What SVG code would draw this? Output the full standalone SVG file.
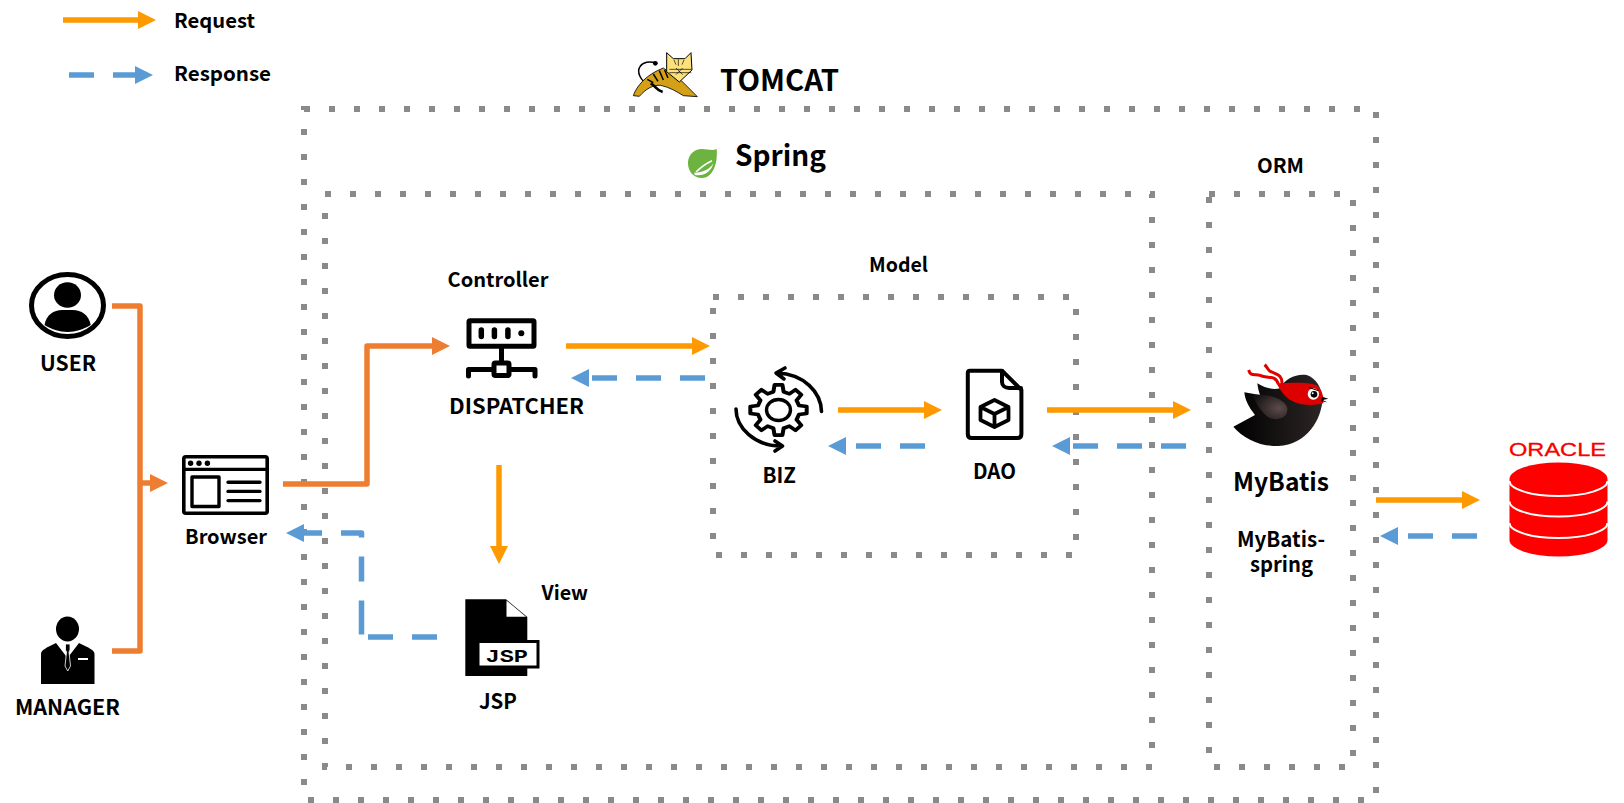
<svg xmlns="http://www.w3.org/2000/svg" width="1624" height="803" viewBox="0 0 1624 803">
<style>
.box{fill:none;stroke:#8a8a8a;stroke-width:6;stroke-dasharray:6 19}
.req,.ora,.res{fill:none;stroke-width:5.5;stroke-linejoin:round}
.req{stroke:#ff9900}
.ora{stroke:#ed7d31}
.res{stroke:#5b9bd5;stroke-dasharray:25 19}
.ah-req{marker-end:url(#hReq)}
.ah-ora{marker-end:url(#hOra)}
.ah-res{marker-end:url(#hRes)}
text{font-family:"Noto Sans CJK JP","Noto Sans","Liberation Sans",sans-serif;font-weight:700;fill:#000}
.ic{fill:none;stroke:#000;stroke-linejoin:round;stroke-linecap:round}
</style>
<defs>
<marker id="hReq" markerUnits="userSpaceOnUse" markerWidth="18" markerHeight="18" refX="0" refY="9" orient="auto"><polygon points="0,0 18,9 0,18" fill="#ff9900"/></marker>
<marker id="hOra" markerUnits="userSpaceOnUse" markerWidth="18" markerHeight="18" refX="0" refY="9" orient="auto"><polygon points="0,0 18,9 0,18" fill="#ed7d31"/></marker>
<marker id="hRes" markerUnits="userSpaceOnUse" markerWidth="18" markerHeight="18" refX="0" refY="9" orient="auto"><polygon points="0,0 18,9 0,18" fill="#5b9bd5"/></marker>
<radialGradient id="wingG" cx="0.75" cy="0.55" r="0.8"><stop offset="0" stop-color="#5d4b4a"/><stop offset="1" stop-color="#141111"/></radialGradient>
<linearGradient id="birdG" x1="0" x2="1" y1="0" y2="0"><stop offset="0" stop-color="#000"/><stop offset="1" stop-color="#2c2625"/></linearGradient>
</defs>

<g id="containers">
<rect id="tomcat-box" class="box" x="304" y="109" width="1072" height="691"/>
<rect id="spring-box" class="box" x="325" y="194" width="827" height="573"/>
<rect id="orm-box" class="box" x="1209" y="194" width="144" height="573"/>
<rect id="model-box" class="box" x="713" y="297" width="363" height="258"/>
</g>

<g id="connectors">
<path class="req ah-req" d="M63 20H138"/>
<path class="res ah-res" d="M69 75H135"/>
<path class="ora" d="M112 306H140V651H112"/>
<path class="ora ah-ora" d="M140 483H150"/>
<path class="ora ah-ora" d="M283 484H367V346H432"/>
<path class="req ah-req" d="M566 346H692"/>
<path class="res ah-res" d="M705 378H589"/>
<path class="req ah-req" d="M499 465V546"/>
<path class="res" d="M437 637H368"/>
<path class="res ah-res" style="stroke-dasharray:34 19 25 19 25 19 25" d="M361.5 634.5V533H304"/>
<path class="req ah-req" d="M838 410H924"/>
<path class="res ah-res" d="M925 446H846"/>
<path class="req ah-req" d="M1047 410H1173"/>
<path class="res ah-res" d="M1186 446H1070"/>
<path class="req ah-req" d="M1376 500H1462"/>
<path class="res ah-res" d="M1477 536H1398"/>
</g>

<g id="legend">
<text x="174" y="28" font-size="20" textLength="81" lengthAdjust="spacingAndGlyphs">Request</text>
<text x="174" y="80.5" font-size="20" textLength="97" lengthAdjust="spacingAndGlyphs">Response</text>
</g>

<g id="tomcat">
<g transform="translate(620 40) scale(.33333)">
<path d="M88 134C60 124 50 95 60 80C68 66 88 62 112 70" fill="none" stroke="#000" stroke-width="4.5"/>
<circle cx="106" cy="70" r="7" fill="#000"/>
<path d="M40 167C50 138 78 104 130 84L152 100L184 122L232 170L190 167C172 156 150 142 122 136C100 134 78 146 58 169Z" fill="#d4a017" stroke="#000" stroke-width="2.5"/>
<path d="M92 130C108 138 108 150 128 156" fill="none" stroke="#000" stroke-width="8"/>
<path d="M82 118L100 128M100 102L114 124M118 92L130 120M134 90L144 114" stroke="#000" stroke-width="4.5" fill="none"/>
<path d="M140 38L160 56H195L213 38L216 90L178 126L140 95Z" fill="#fde17c" stroke="#000" stroke-width="3"/>
<path d="M175 58V78M162 60L168 74M192 60L186 74M148 88H214M148 98H214M168 84L188 104M188 84L168 104" stroke="#000" stroke-width="2" fill="none"/>
</g>
<text x="720" y="91" font-size="29" textLength="119" lengthAdjust="spacingAndGlyphs">TOMCAT</text>
</g>

<g id="spring">
<path d="M716.7 149C718 165 712 178 702 178C693 178 688 171 688 163C688 155 694 149 702 149C708 149 712 151 716.7 149Z" fill="#6db33f"/>
<path d="M694 172.7C700 173.3 710 170 713.3 163.3C711.7 171.7 703 176.7 695 175Z" fill="#fff"/>
<path d="M696 172C702 166 707 163 712 160.7" fill="none" stroke="#fff" stroke-width="1.6"/>
<text x="735" y="166" font-size="29" textLength="91" lengthAdjust="spacingAndGlyphs">Spring</text>
</g>

<g id="orm-label"><text x="1257" y="173" font-size="20" textLength="47" lengthAdjust="spacingAndGlyphs">ORM</text></g>
<g id="model-label"><text x="869" y="272" font-size="20" textLength="59" lengthAdjust="spacingAndGlyphs">Model</text></g>

<g id="user">
<ellipse cx="67.5" cy="305.5" rx="36" ry="31" fill="none" stroke="#000" stroke-width="5"/>
<ellipse cx="67.5" cy="295" rx="13.5" ry="12.8" fill="#000"/>
<path d="M44.5 325C46 315 54 310 62 310H73C81 310 89 315 90.7 325C84 329 76 332 67.5 332C59 332 51 329 44.5 325Z" fill="#000"/>
<text x="40" y="371" font-size="21" textLength="56" lengthAdjust="spacingAndGlyphs">USER</text>
</g>

<g id="manager">
<ellipse cx="67.5" cy="629" rx="11.5" ry="12.5" fill="#000"/>
<path d="M41 684V654C41 650 46 648 56 643L67.5 658L79 643C89 648 94.5 650 94.5 654V684Z" fill="#000"/>
<path d="M65.5 644H70V650L69 652L70.5 666L67.7 671L65 666L66.5 652L65.5 650Z" fill="#000" stroke="#fff" stroke-width=".8"/>
<path d="M78 659H88" stroke="#fff" stroke-width="2"/>
<text x="15" y="715" font-size="21" textLength="105" lengthAdjust="spacingAndGlyphs">MANAGER</text>
</g>

<g id="browser">
<rect class="ic" x="183.8" y="456.8" width="83.4" height="56.4" rx="2" stroke-width="3.6"/>
<path class="ic" d="M183.7 469.3H267.3" stroke-width="3.2"/>
<circle cx="190.6" cy="463.2" r="2.7"/><circle cx="199" cy="463.2" r="2.7"/><circle cx="207.4" cy="463.2" r="2.7"/>
<rect class="ic" x="192" y="477" width="27" height="29.5" stroke-width="3.4"/>
<path class="ic" d="M228 482.3H260M228 491.4H260M228 500.6H260" stroke-width="3.4"/>
<text x="185" y="544" font-size="20" textLength="82" lengthAdjust="spacingAndGlyphs">Browser</text>
</g>

<g id="dispatcher">
<rect class="ic" x="469" y="320.7" width="65" height="25.5" rx="1" stroke-width="5"/>
<path class="ic" d="M501.5 347V362" stroke-width="5"/>
<path class="ic" d="M468.5 376V369.5H493M510 369.5H535V376" stroke-width="5"/>
<rect class="ic" x="494" y="363" width="15" height="12.5" rx="1.5" stroke-width="5"/>
<path class="ic" d="M481.3 330V336.5M494.4 330V336.5M507.9 330V336.5" stroke-width="5.5"/>
<circle cx="521.3" cy="333.3" r="3"/>
<text x="447.5" y="287" font-size="20" textLength="101" lengthAdjust="spacingAndGlyphs">Controller</text>
<text x="449" y="414" font-size="21" textLength="135" lengthAdjust="spacingAndGlyphs">DISPATCHER</text>
</g>

<g id="jsp">
<path d="M465.3 599.3H506L527.3 617V676H465.3Z" fill="#000"/>
<path d="M506.5 600.5L526 616.8H506.5Z" fill="#fff"/>
<rect x="478" y="641.5" width="60" height="25.5" fill="#fff" stroke="#000" stroke-width="3"/>
<text x="485.5" y="662" font-size="18.5" textLength="42.5" lengthAdjust="spacingAndGlyphs" style="font-family:'Liberation Mono',monospace">JSP</text>
<text x="541.5" y="600" font-size="20" textLength="46.5" lengthAdjust="spacingAndGlyphs">View</text>
<text x="479" y="709" font-size="21" textLength="38" lengthAdjust="spacingAndGlyphs">JSP</text>
</g>

<g id="biz">
<g transform="translate(778.5 410) scale(1.055 .94)">
<path class="ic" stroke-width="3.8" d="M-4.84 -19.4L-3.76 -26.7L3.76 -26.7L4.84 -19.4L10.3 -17.1L16.2 -21.6L21.6 -16.2L17.1 -10.3L19.4 -4.84L26.7 -3.76L26.7 3.76L19.4 4.84L17.1 10.3L21.6 16.2L16.2 21.6L10.3 17.1L4.84 19.4L3.76 26.7L-3.76 26.7L-4.84 19.4L-10.3 17.1L-16.2 21.6L-21.6 16.2L-17.1 10.3L-19.4 4.84L-26.7 3.76L-26.7 -3.76L-19.4 -4.84L-17.1 -10.3L-21.6 -16.2L-16.2 -21.6L-10.3 -17.1Z"/>
</g>
<ellipse class="ic" cx="778.5" cy="410" rx="12" ry="10.5" stroke-width="3.4"/>
<path class="ic" stroke-width="3.6" d="M821.5 411.5C821 392 804 374 777 373M785 368L776 373L784 379"/>
<path class="ic" stroke-width="3.6" d="M736 409C736 428 755 446 781 446M775 441L782.5 446L775 451"/>
<text x="762.5" y="483" font-size="21" textLength="33.5" lengthAdjust="spacingAndGlyphs">BIZ</text>
</g>

<g id="dao">
<path class="ic" stroke-width="4" d="M970 370.7H1002L1021.4 390V434C1021.4 436.5 1020 438 1017.5 438H971.5C969 438 967.8 436.5 967.8 434V373C967.8 371.5 968.5 370.7 970 370.7Z"/>
<path class="ic" stroke-width="4" d="M1002 371V382C1002 385.5 1005 388 1009 388H1021"/>
<path class="ic" stroke-width="3.8" d="M994.5 400L1008.5 407V420L994.5 427L980.5 420V407ZM980.5 407L994.5 414L1008.5 407M994.5 414V427"/>
<text x="973" y="479" font-size="21" textLength="43" lengthAdjust="spacingAndGlyphs">DAO</text>
</g>

<g id="mybatis">
<g transform="translate(1210 350) scale(.33333)">
<path d="M205 102C195 72 172 88 150 76C136 70 122 82 116 60" fill="none" stroke="#e00000" stroke-width="9"/>
<path d="M216 104C218 70 196 74 178 62C172 56 170 50 164 44" fill="none" stroke="#e00000" stroke-width="9"/>
<path d="M70 230L135 195C115 170 105 150 103 127L150 135C145 120 143 110 142 100C165 115 190 120 210 115C225 85 260 70 290 75C320 85 335 115 338 145C335 210 290 285 205 288C150 290 100 265 70 230Z" fill="url(#birdG)"/>
<path d="M128 135C170 130 225 145 232 175C235 205 200 212 180 205C160 195 140 165 128 135Z" fill="url(#wingG)"/>
<path d="M200 100C240 100 285 94 320 106C334 118 342 135 340 160C310 168 270 166 246 153C226 142 210 122 200 100Z" fill="#dd0000"/>
<circle cx="310" cy="132" r="17" fill="#fff"/><circle cx="312" cy="133" r="10" fill="#000"/><circle cx="308" cy="130" r="3" fill="#fff"/>
<path d="M295 112L325 122" stroke="#000" stroke-width="3"/>
<path d="M336 140L355 146L338 150L352 157L334 154Z" fill="#000"/>
</g>
<text x="1233" y="491" font-size="25" textLength="96" lengthAdjust="spacingAndGlyphs">MyBatis</text>
<text x="1237" y="547" font-size="21" textLength="88" lengthAdjust="spacingAndGlyphs">MyBatis-</text>
<text x="1250" y="572" font-size="21" textLength="63" lengthAdjust="spacingAndGlyphs">spring</text>
</g>

<g id="oracle">
<text x="1509" y="456" font-size="18.8" textLength="97" lengthAdjust="spacingAndGlyphs" style="fill:#f80000;stroke:#f80000;stroke-width:.3;font-weight:400;font-family:'Liberation Sans',sans-serif">ORACLE</text>
<path d="M1509.5 479A49 16.5 0 0 1 1607.5 479V540A49 16.5 0 0 1 1509.5 540Z" fill="#fe0000"/>
<path d="M1509.5 481A49 15 0 0 0 1607.5 481M1509.5 501.5A49 15 0 0 0 1607.5 501.5M1509.5 523A49 15 0 0 0 1607.5 523" fill="none" stroke="#fff" stroke-width="2"/>
</g>
</svg>
